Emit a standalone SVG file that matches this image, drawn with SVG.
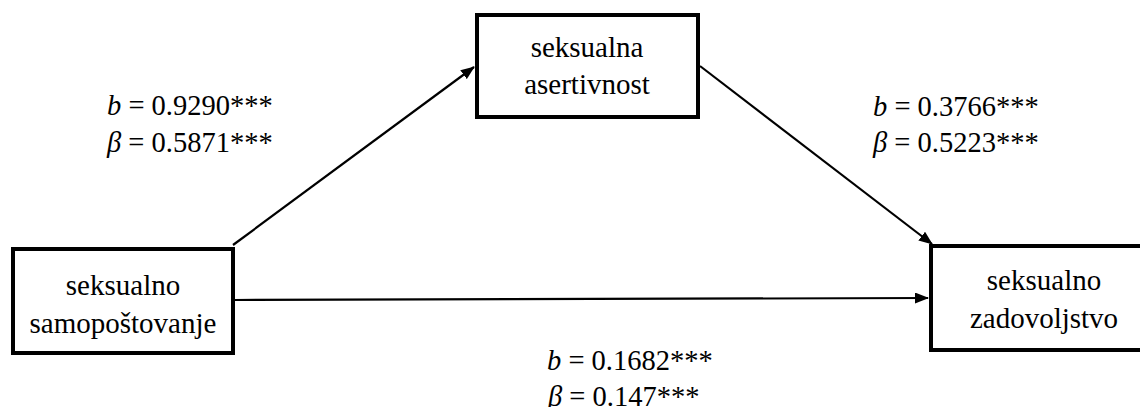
<svg xmlns="http://www.w3.org/2000/svg" width="1140" height="407" viewBox="0 0 1140 407">
<style>
.box{fill:#fff;stroke:#000;stroke-width:4}
.t{font-family:"Liberation Serif","Times New Roman",serif;font-size:29px;fill:#000}
.c{text-anchor:middle}
.l{font-family:"Liberation Serif","Times New Roman",serif;font-size:28.5px;fill:#000}
.e{stroke:#000;stroke-width:2.2;fill:none;marker-end:url(#ah)}
</style>
<defs>
<marker id="ah" viewBox="0 0 14 11" refX="13" refY="5.5" markerWidth="14" markerHeight="11" markerUnits="userSpaceOnUse" orient="auto">
<path d="M0,0 L14,5.5 L0,11 Z" fill="#000"/>
</marker>
</defs>
<rect width="1140" height="407" fill="#fff"/>
<g id="connectors">
<line class="e" x1="233" y1="245" x2="474" y2="67"/>
<line class="e" x1="700" y1="66" x2="932" y2="244"/>
<line class="e" x1="235" y1="300" x2="928" y2="298"/>
</g>
<g id="node-samopostovanje">
<rect class="box" x="13" y="249" width="220" height="104"/>
<text class="t c" x="123" y="295">seksualno</text>
<text class="t c" x="123" y="333">samopoštovanje</text>
</g>
<g id="node-asertivnost">
<rect class="box" x="477" y="15" width="221" height="102"/>
<text class="t c" x="587" y="57">seksualna</text>
<text class="t c" x="587" y="94">asertivnost</text>
</g>
<g id="node-zadovoljstvo">
<rect class="box" x="931" y="246" width="230" height="104"/>
<text class="t c" x="1044" y="290">seksualno</text>
<text class="t c" x="1044" y="328">zadovoljstvo</text>
</g>
<g id="label-a">
<text class="l" x="107" y="115"><tspan font-style="italic">b</tspan> = 0.9290***</text>
<text class="l" x="107" y="152"><tspan font-style="italic">β</tspan> = 0.5871***</text>
</g>
<g id="label-b">
<text class="l" x="873" y="116"><tspan font-style="italic">b</tspan> = 0.3766***</text>
<text class="l" x="873" y="152"><tspan font-style="italic">β</tspan> = 0.5223***</text>
</g>
<g id="label-c">
<text class="l" x="547" y="370"><tspan font-style="italic">b</tspan> = 0.1682***</text>
<text class="l" x="548" y="406"><tspan font-style="italic">β</tspan> = 0.147***</text>
</g>
</svg>
